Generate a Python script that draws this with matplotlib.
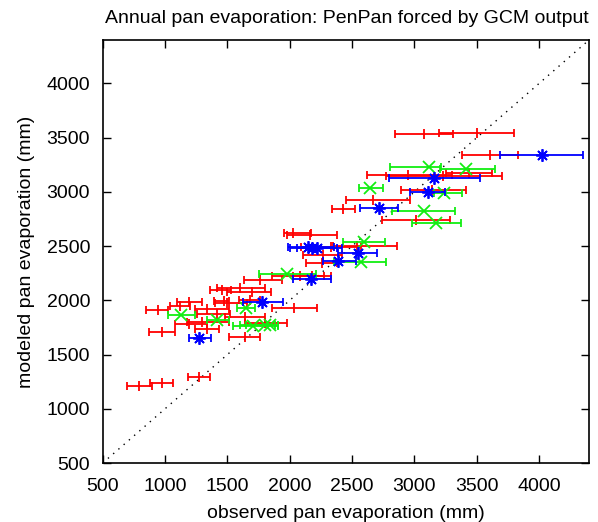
import matplotlib
matplotlib.use("Agg")
import matplotlib.pyplot as plt
import numpy as np

plt.rcParams["font.family"] = ["Liberation Sans", "DejaVu Sans"]

# --- DATA (observed x, modeled y, observed range low/high) ---
red_x    = [3079, 3502, 3608, 3434, 2950, 3230, 3140, 2670, 2430, 3015,
            2030, 2160, 2540, 2330, 2270, 2260, 2083, 2180, 1760, 1600,
            1700, 1455, 1470, 1680, 1500, 1193, 1120, 941, 1335, 2036,
            1420, 1640, 1300, 1190, 1800, 1335, 973, 1642, 1275, 973, 791]
red_y    = [3529, 3541, 3343, 3175, 3155, 3150, 3020, 2925, 2845, 2744,
            2620, 2600, 2500, 2495, 2415, 2340, 2222, 2225, 2185, 2110,
            2080, 2093, 1995, 2000, 1975, 1985, 1950, 1909, 1918, 1930,
            1870, 1850, 1800, 1786, 1790, 1740, 1709, 1663, 1295, 1240, 1212]
red_lo   = [2846, 3194, 3381, 3250, 2620, 2770, 2890, 2450, 2340, 2739,
            1950, 1980, 2350, 2090, 2110, 2130, 1856, 2030, 1630, 1420,
            1500, 1362, 1390, 1590, 1400, 1094, 1040, 848, 1240, 1856,
            1254, 1480, 1180, 1080, 1640, 1240, 874, 1510, 1182, 880, 692]
red_hi   = [3309, 3796, 3831, 3620, 3300, 3700, 3410, 2966, 2525, 3287,
            2170, 2380, 2860, 2570, 2420, 2380, 2271, 2330, 1940, 1800,
            1850, 1530, 1510, 1760, 1656, 1295, 1200, 1027, 1510, 2218,
            1522, 1800, 1510, 1335, 1980, 1430, 1080, 1760, 1361, 1067, 893]

green_x  = [3416, 3113, 2645, 3073, 3175, 3234, 2592, 2573, 1982, 1648,
            1709, 1803, 1843, 1420, 1126]
green_y  = [3213, 3226, 3039, 2820, 2713, 2993, 2538, 2351, 2247, 1925,
            1764, 1768, 1770, 1823, 1866]
green_lo = [3202, 2806, 2557, 2824, 2980, 3153, 2426, 2351, 1757, 1580,
            1543, 1600, 1650, 1340, 1022]
green_hi = [3643, 3209, 2744, 3322, 3370, 3381, 2760, 2768, 2212, 1722,
            1909, 1880, 1909, 1510, 1241]

blue_x   = [4023, 3153, 3105, 2712, 2551, 2391, 2172, 1776, 2150, 2177, 2218, 1275]
blue_y   = [3336, 3131, 2995, 2851, 2440, 2363, 2194, 1980, 2491, 2486, 2480, 1657]
blue_lo  = [3689, 2798, 2961, 2560, 2391, 2266, 2025, 1624, 1985, 2000, 2060, 1195]
blue_hi  = [4352, 3523, 3247, 2865, 2699, 2533, 2332, 1945, 2351, 2380, 2420, 1367]

fig = plt.figure(figsize=(5.98, 5.22), dpi=100)
ax = fig.add_axes([0.1717, 0.113, 0.8133, 0.8104])

# 1:1 line
ax.plot([500, 4400], [500, 4400], color="black", linestyle=(0, (1, 4)), linewidth=1)

def draw(x, y, lo, hi, color, marker, ms):
    x = np.array(x); y = np.array(y)
    err = [x - np.array(lo), np.array(hi) - x]
    ax.errorbar(x, y, xerr=err, fmt="none", ecolor=color, elinewidth=1.3,
                capsize=3, capthick=1.3)
    ax.plot(x, y, linestyle="none", marker=marker, color=color,
            markersize=ms, markeredgewidth=1.3)

draw(red_x, red_y, red_lo, red_hi, "#ff0000", "|", 7)
draw(green_x, green_y, green_lo, green_hi, "#11ee11", "x", 8)
draw(blue_x, blue_y, blue_lo, blue_hi, "#0000ff", (8, 2, 0), 9)

ax.set_xlim(500, 4400)
ax.set_ylim(500, 4400)
ax.set_xticks(range(500, 4001, 500))
ax.set_yticks(range(500, 4001, 500))
ax.tick_params(direction="in", length=6, width=1, labelsize=14,
               top=True, right=True, pad=9)
ax.tick_params(axis="x", pad=11)
for s in ax.spines.values():
    s.set_linewidth(1.2)

ax.set_xlabel("observed pan evaporation (mm)", fontsize=14, labelpad=7)
ax.set_ylabel("modeled pan evaporation (mm)", fontsize=14, labelpad=8)
fig.text(0.176, 0.965, "Annual pan evaporation: PenPan forced by GCM output",
         fontsize=14, ha="left", va="center")

fig.savefig("out.png", dpi=100)
